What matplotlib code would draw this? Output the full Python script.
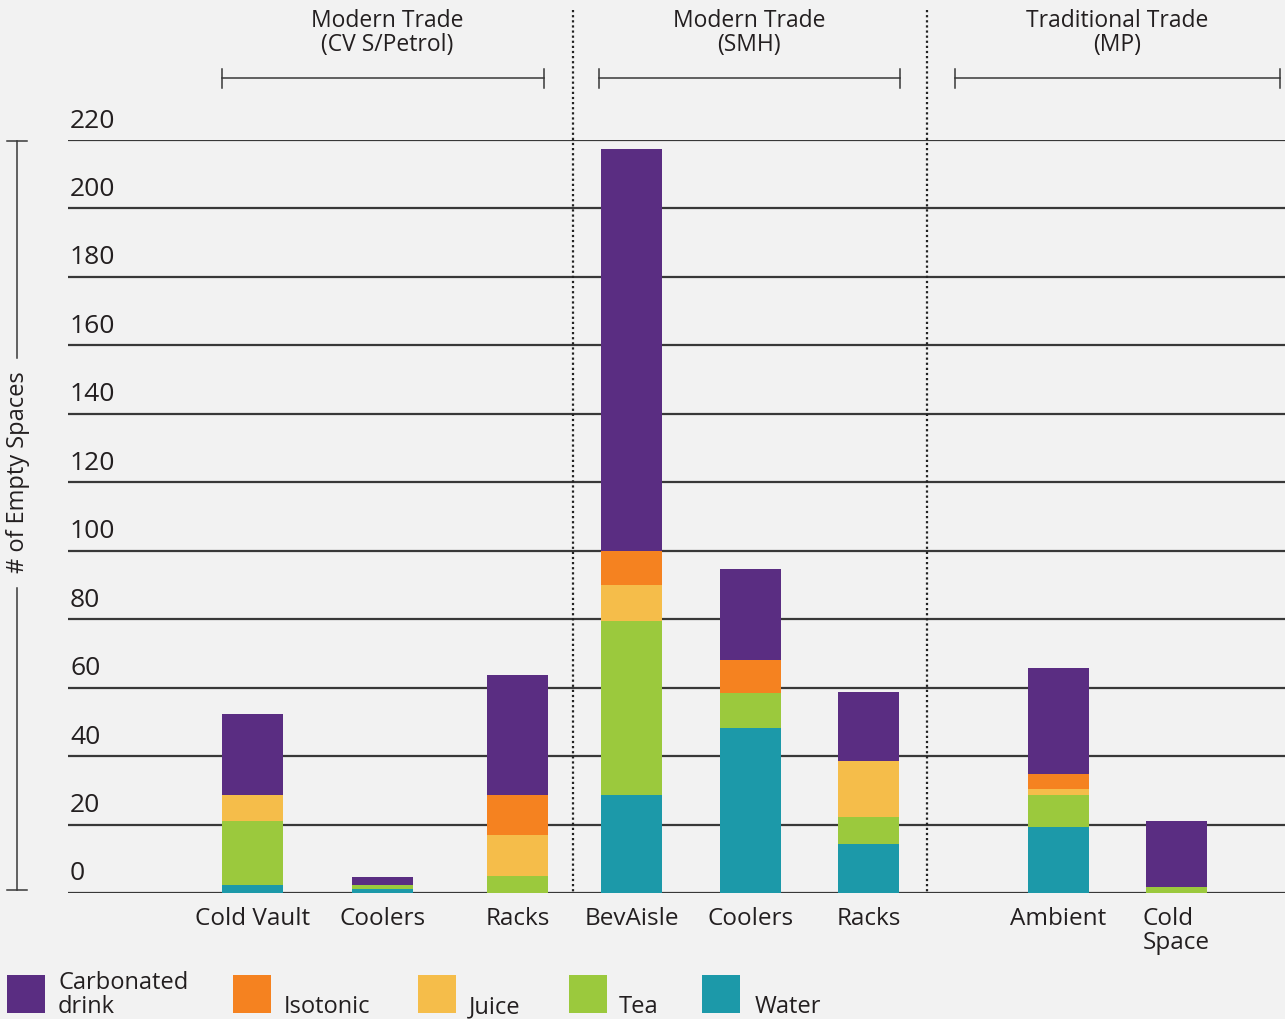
import matplotlib.pyplot as plt
from matplotlib.lines import Line2D
import numpy as np

plt.rcParams['font.family'] = ['Open Sans', 'DejaVu Sans']

# ============================================================================
# Data
# ============================================================================
categories = ['Cold Vault', 'Coolers', 'Racks', 'BevAisle', 'Coolers', 'Racks', 'Ambient', 'Cold\nSpace']
groups = ['Modern Trade\n(CV S/Petrol)', 'Modern Trade\n(SMH)', 'Traditional Trade\n(MP)']

water      = [2.3, 1.3, 0.0, 28.7, 48.3, 14.4, 19.4, 0.0]
tea        = [18.7, 1.1, 5.1, 50.8, 10.2, 7.9, 9.3, 1.8]
juice      = [7.6, 0.0, 11.9, 10.6, 0.0, 16.4, 1.8, 0.0]
isotonic   = [0.0, 0.0, 11.7, 9.9, 9.7, 0.0, 4.4, 0.0]
carbonated = [23.7, 2.4, 35.1, 117.5, 26.6, 20.1, 30.9, 19.3]

y_ticks = [0, 20, 40, 60, 80, 100, 120, 140, 160, 180, 200, 220]

# ============================================================================
# Layout / style
# ============================================================================
W, H = 1285, 1019
BG = '#f2f2f2'
GRID = '#383838'
TXT = '#231f20'
colors = {'Water': '#1c99a9', 'Tea': '#9bc93d', 'Juice': '#f5bd4a',
          'Isotonic': '#f58220', 'Carbonated drink': '#5a2d82'}

bar_x = [252.5, 382.5, 517.5, 631.5, 750.5, 868.5, 1058.5, 1176.5]   # pixel columns
bar_w = 61
group_center = [387, 749, 1117]
group_span = [(222, 544), (599, 900), (955, 1280)]
separators = [573, 927]
base_px, top_px = 893, 140   # pixel rows of 0 and 220


def fx(x):
    return x / W


def fy(y):
    return 1 - y / H


fig = plt.figure(figsize=(W / 100, H / 100), dpi=100, facecolor=BG)
ax = fig.add_axes([0, fy(base_px), 1, (base_px - top_px) / H])
ax.set_xlim(0, W)
ax.set_ylim(0, 220)
ax.axis('off')

# gridlines + tick labels
ax.hlines(y_ticks, 68, W, color=GRID, lw=1.6, zorder=1)
for t in y_ticks:
    ax.annotate(str(t), (70, t), xytext=(0, 9), textcoords='offset points',
                ha='left', va='baseline', fontsize=19, color=TXT)

# stacked bars
stack = [('Water', water), ('Tea', tea), ('Juice', juice),
         ('Isotonic', isotonic), ('Carbonated drink', carbonated)]
bottom = np.zeros(len(categories))
for name, vals in stack:
    vals = np.array(vals)
    ax.bar(bar_x, vals, width=bar_w, bottom=bottom, color=colors[name],
           linewidth=0, zorder=2)
    bottom += vals

# category labels
for x, lab in zip(bar_x, categories):
    fig.text(fx(x), fy(907), lab, ha='center', va='top', fontsize=17.5,
             color=TXT, linespacing=1.0, multialignment='left')

# group titles and brackets
for c, g, (x0, x1) in zip(group_center, groups, group_span):
    fig.text(fx(c), fy(33), g, ha='center', va='center', fontsize=16.5,
             color=TXT, linespacing=1.05)
    fig.add_artist(Line2D([fx(x0), fx(x1)], [fy(78), fy(78)], color=GRID, lw=1.1))
    for xe in (x0, x1):
        fig.add_artist(Line2D([fx(xe), fx(xe)], [fy(69), fy(88)], color=GRID, lw=1.1))

# dotted separators
for xs in separators:
    fig.add_artist(Line2D([fx(xs), fx(xs)], [fy(10), fy(base_px)], color='#222222',
                          lw=1.6, linestyle=(0, (1, 1.3))))

# y-axis title with bracket line
fig.text(fx(18), fy(472), '# of Empty Spaces', rotation=90, ha='center', va='center',
         fontsize=17, color=TXT)
fig.add_artist(Line2D([fx(17), fx(17)], [fy(141), fy(358)], color=GRID, lw=1.1))
fig.add_artist(Line2D([fx(17), fx(17)], [fy(588), fy(890)], color=GRID, lw=1.1))
for yc in (141, 890):
    fig.add_artist(Line2D([fx(7), fx(27)], [fy(yc), fy(yc)], color=GRID, lw=1.1))

# legend
legend_items = [('Carbonated drink', 'Carbonated\ndrink', 7, 58),
                ('Isotonic', 'Isotonic', 233, 284),
                ('Juice', 'Juice', 418, 469),
                ('Tea', 'Tea', 569, 619),
                ('Water', 'Water', 702, 755)]
for name, lab, sx, tx in legend_items:
    fig.add_artist(plt.Rectangle((fx(sx), fy(1013)), 38 / W, 38 / H,
                                 transform=fig.transFigure, color=colors[name], lw=0))
    lines = lab.split('\n')
    for i, ln in enumerate(reversed(lines)):
        fig.text(fx(tx), fy(1013 - 24 * i), ln, ha='left', va='baseline',
                 fontsize=17, color=TXT)

fig.savefig('out.png', dpi=100, facecolor=BG)
